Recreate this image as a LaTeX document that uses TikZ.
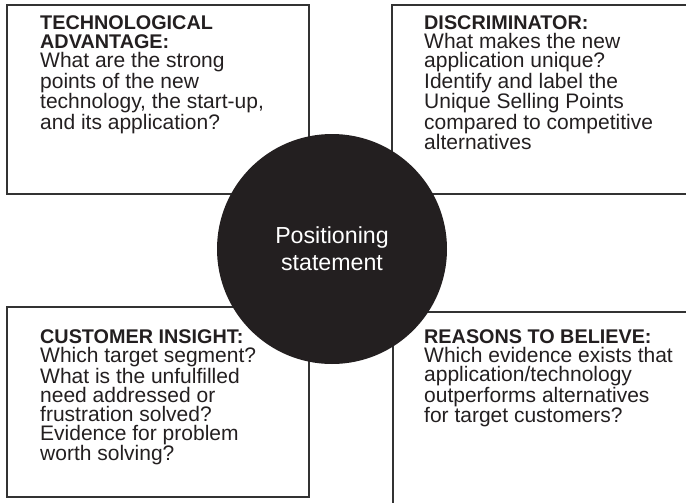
\documentclass[tikz,border=0pt]{standalone}
\usepackage{fontspec}
\setmainfont{Liberation Sans}
\definecolor{ink}{HTML}{231F20}
\definecolor{boxgray}{HTML}{333333}
\newcommand{\boxhead}[1]{{\fontsize{19.8}{19}\selectfont\bfseries #1}}
\begin{document}
\begin{tikzpicture}[x=1pt,y=-1pt,
  boxline/.style={draw=boxgray, line width=1.4pt},
  boxtext/.style={anchor=north west, inner sep=0pt, align=left, text=ink,
    font=\fontsize{21}{19}\selectfont},
  centertext/.style={circle, fill=ink, minimum size=230pt, inner sep=0pt,
    text=white, align=center, font=\fontsize{23.2}{27}\selectfont}
]
\useasboundingbox (0,0) rectangle (686,503);
\clip (0,0) rectangle (686,503);
\draw[boxline] (7,5) rectangle (309,194);
\draw[boxline] (392,5) rectangle (700,194);
\draw[boxline] (7,307) rectangle (309,497);
\draw[boxline] (393,312) rectangle (700,520);
\node[boxtext] (tech) at (40,15.5) {\boxhead{TECHNOLOGICAL}\\\boxhead{ADVANTAGE:}\\What are the strong\\points of the new\\technology, the start-up,\\and its application?};
\node[boxtext] (disc) at (424,15.5) {\boxhead{DISCRIMINATOR:}\\What makes the new\\application unique?\\Identify and label the\\Unique Selling Points\\compared to competitive\\alternatives};
\node[boxtext] (cust) at (40,329.5) {\boxhead{CUSTOMER INSIGHT:}\\Which target segment?\\What is the unfulfilled\\need addressed or\\frustration solved?\\Evidence for problem\\worth solving?};
\node[boxtext] (reas) at (424,329.5) {\boxhead{REASONS TO BELIEVE:}\\Which evidence exists that\\application/technology\\outperforms alternatives\\for target customers?};
\node[centertext] (pos) at (332,249) {Positioning\\statement};
\end{tikzpicture}
\end{document}
